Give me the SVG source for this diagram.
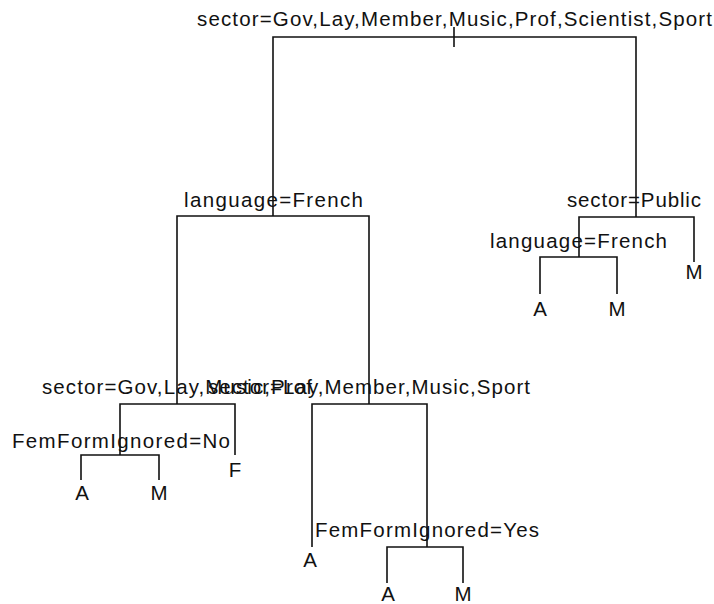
<svg xmlns="http://www.w3.org/2000/svg" width="714" height="604" viewBox="0 0 714 604">
<style>
text{font-family:"Liberation Sans",Arial,sans-serif;font-size:20.5px;fill:#111;text-anchor:middle}
.c path{fill:none;stroke:#111;stroke-width:1.6}
</style>
<rect width="714" height="604" fill="#fff"/>
<g class="c" id="connectors">
<path d="M454,27V47"/>
<path d="M273,216V37H636V217"/>
<path d="M177,404V216H369V404"/>
<path d="M579,257V217H694V262"/>
<path d="M540,294V257H617V294"/>
<path d="M120,455V404H235V455"/>
<path d="M81,480V455H159V480"/>
<path d="M312,547V404H427V547"/>
<path d="M387,583V547H463V583"/>
</g>
<g id="n1"><text x="454.5" y="26" textLength="515" lengthAdjust="spacing">sector=Gov,Lay,Member,Music,Prof,Scientist,Sport</text></g>
<g id="n2"><text x="273.5" y="207" textLength="179" lengthAdjust="spacing">language=French</text></g>
<g id="n3"><text x="634" y="207" textLength="134" lengthAdjust="spacing">sector=Public</text></g>
<g id="n4"><text x="578.5" y="248" textLength="177" lengthAdjust="spacing">language=French</text></g>
<g id="n5"><text x="694" y="279">M</text></g>
<g id="n6"><text x="540" y="316">A</text></g>
<g id="n7"><text x="617" y="316">M</text></g>
<g id="n8"><text x="177" y="394" textLength="270" lengthAdjust="spacing">sector=Gov,Lay,Music,Prof</text></g>
<g id="n9"><text x="369" y="394" textLength="322" lengthAdjust="spacing">sector=Lay,Member,Music,Sport</text></g>
<g id="n10"><text x="121" y="448" textLength="218" lengthAdjust="spacing">FemFormIgnored=No</text></g>
<g id="n11"><text x="235" y="477">F</text></g>
<g id="n12"><text x="82" y="500">A</text></g>
<g id="n13"><text x="159" y="500">M</text></g>
<g id="n14"><text x="427" y="537" textLength="224" lengthAdjust="spacing">FemFormIgnored=Yes</text></g>
<g id="n15"><text x="310" y="567">A</text></g>
<g id="n16"><text x="388" y="601">A</text></g>
<g id="n17"><text x="463" y="601">M</text></g>
</svg>
